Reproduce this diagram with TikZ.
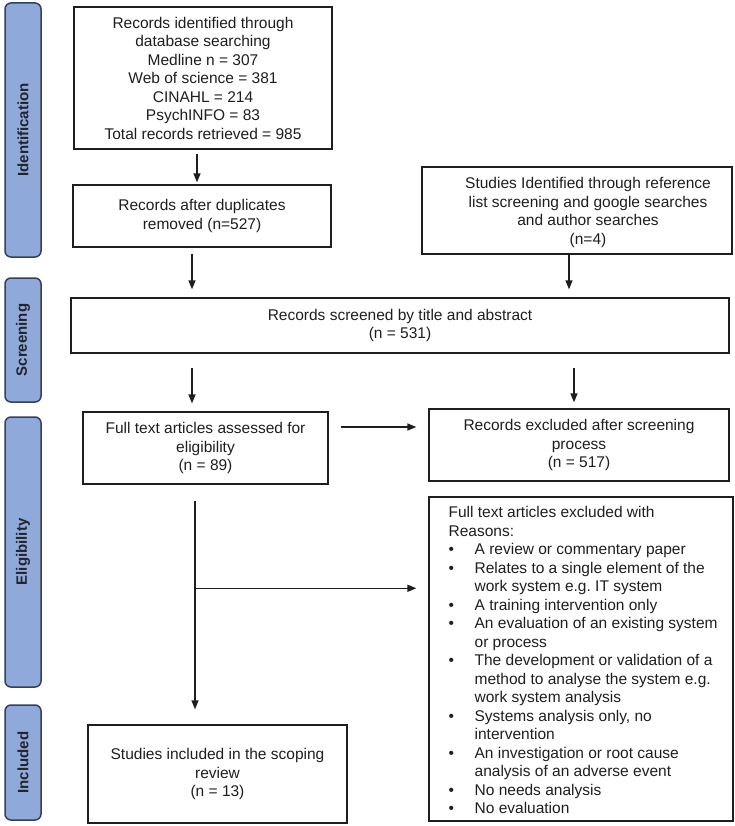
\documentclass[tikz,border=0pt]{standalone}
\usepackage{fontspec}
\setmainfont{Liberation Sans}
\usetikzlibrary{arrows.meta}
\definecolor{sidefill}{RGB}{143,169,219}
\definecolor{sideline}{RGB}{52,64,90}
\definecolor{ink}{RGB}{30,30,30}
\newcommand{\bul}{\makebox[26pt][l]{\textbullet}}
\newcommand{\ind}{\hspace*{26pt}}
\begin{document}
\begin{tikzpicture}[x=1pt,y=-1pt,
  box/.style={draw=ink, line width=1.3pt, inner sep=0pt, align=center, text=ink,
    font=\fontsize{15.5}{18.5}\selectfont},
  side/.style={draw=sideline, fill=sidefill, line width=1.5pt, rounded corners=6pt,
    minimum width=36pt, inner sep=0pt},
  sidetxt/.style={rotate=90, font=\bfseries\fontsize{15}{17}\selectfont, text=ink!80!sideline},
  arr/.style={draw=ink, line width=1.3pt, -{Triangle[length=9pt,width=7pt]}},
  ln/.style={draw=ink, line width=1.3pt}]
\useasboundingbox (0,0) rectangle (735,826);

% side labels
\node[side, minimum height=254pt] (sid) at (23,130) {};
\node[sidetxt] (sidt) at (sid.center) {Identification};
\node[side, minimum height=124pt] (sscr) at (23,340) {};
\node[sidetxt] (sscrt) at (sscr.center) {Screening};
\node[side, minimum height=270pt] (sel) at (23,552) {};
\node[sidetxt] (selt) at (sel.center) {Eligibility};
\node[side, minimum height=115pt] (sin) at (23,762.5) {};
\node[sidetxt] (sint) at (sin.center) {Included};

% boxes
\node[box, minimum width=258pt, minimum height=142pt] (b1) at (203,78)
 {Records identified through\\database searching\\Medline n = 307\\Web of science = 381\\CINAHL = 214\\PsychINFO = 83\\Total records retrieved = 985};
\node[box, minimum width=258pt, minimum height=62pt] (b2) at (202,216)
 {Records after duplicates\\removed (n=527)};
\node[box, minimum width=310pt, minimum height=87pt] (st) at (577,210.5) {};
\node[box, draw=none] (stt) at (588,212.5)
 {Studies Identified through reference\\list screening and google searches\\and author searches\\(n=4)};
\node[box, minimum width=658pt, minimum height=55pt] (scr) at (400,325.5)
 {Records screened by title and abstract\\(n = 531)};
\node[box, minimum width=245pt, minimum height=72pt] (ft) at (205.5,448)
 {Full text articles assessed for\\eligibility\\(n = 89)};
\node[box, minimum width=300pt, minimum height=72pt] (ex) at (579,445)
 {Records excluded after screening\\process\\(n = 517)};
\node[box, minimum width=304pt, minimum height=324pt] (big) at (581,659) {};
\node[box, draw=none, align=left, anchor=north west] (bigt) at (448,506)
 {Full text articles excluded with\\
  Reasons:\\
  \bul A review or commentary paper\\
  \bul Relates to a single element of the\\
  \ind work system e.g.\ IT system\\
  \bul A training intervention only\\
  \bul An evaluation of an existing system\\
  \ind or process\\
  \bul The development or validation of a\\
  \ind method to analyse the system e.g.\\
  \ind work system analysis\\
  \bul Systems analysis only, no\\
  \ind intervention\\
  \bul An investigation or root cause\\
  \ind analysis of an adverse event\\
  \bul No needs analysis\\
  \bul No evaluation};
\node[box, minimum width=259pt, minimum height=98pt] (inc) at (217.5,774)
 {Studies included in the scoping\\review\\(n = 13)};

% connectors
\draw[arr, shorten <=4pt, shorten >=2pt] ([xshift=-6pt]b1.south) -- ([xshift=-5pt]b2.north);
\draw[arr, shorten <=6pt, shorten >=8pt] ([xshift=-10pt]b2.south) -- ([xshift=-208pt]scr.north);
\draw[arr, shorten >=8pt] ([xshift=-8pt]st.south) -- ([xshift=169pt]scr.north);
\draw[arr, shorten <=14pt, shorten >=8pt] ([xshift=-208pt]scr.south) -- ([xshift=-13.5pt]ft.north);
\draw[arr, shorten <=14pt, shorten >=6pt] ([xshift=174pt]scr.south) -- ([xshift=-5pt]ex.north);
\coordinate (fe) at ([yshift=21pt]ft.east);
\draw[arr, shorten <=12pt, shorten >=12pt] (fe) -- (fe -| ex.west);
\draw[arr, shorten <=16pt, shorten >=15pt] ([xshift=-10.5pt]ft.south) -- ([xshift=-22.5pt]inc.north);
\coordinate (br) at ([xshift=-10.5pt,yshift=-103.6pt]ft.south);
\draw[arr, line width=1.5pt, shorten >=12pt] (br) -- (br -| big.west);
\end{tikzpicture}
\end{document}
